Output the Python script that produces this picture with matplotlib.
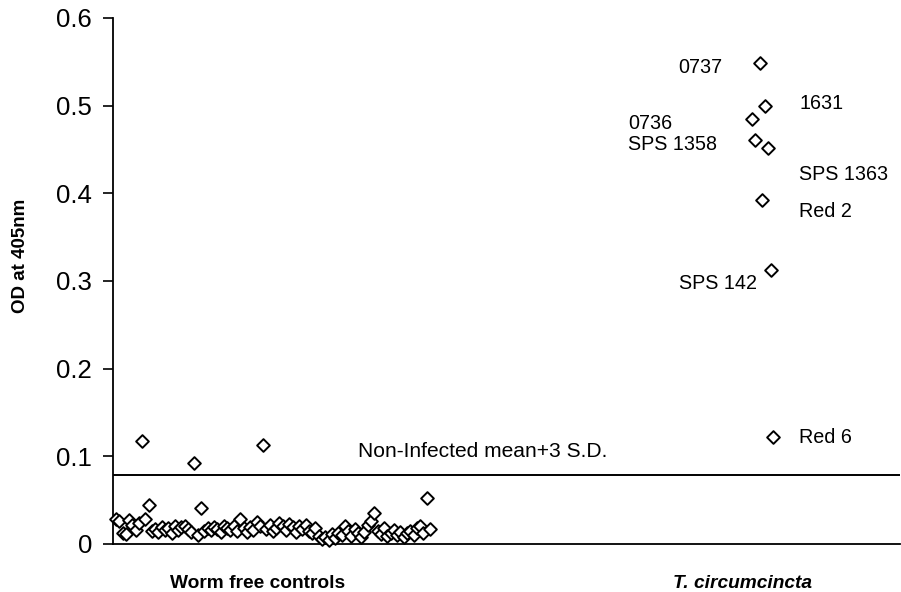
import numpy as np
import matplotlib.pyplot as plt

plt.rcParams['font.family'] = ['Liberation Sans', 'DejaVu Sans']

# OD values of worm free control sera (in plate order)
control_od = [0.028, 0.026, 0.013, 0.011, 0.027, 0.022, 0.016, 0.024, 0.118, 0.029,
              0.044, 0.015, 0.017, 0.014, 0.019, 0.016, 0.018, 0.013, 0.020, 0.016,
              0.019, 0.021, 0.017, 0.014, 0.092, 0.010, 0.041, 0.015, 0.018, 0.016,
              0.019, 0.017, 0.014, 0.020, 0.018, 0.016, 0.021, 0.015, 0.029, 0.018,
              0.014, 0.019, 0.016, 0.025, 0.020, 0.113, 0.017, 0.022, 0.015, 0.018,
              0.024, 0.020, 0.016, 0.023, 0.019, 0.014, 0.021, 0.017, 0.022, 0.015,
              0.012, 0.018, 0.009, 0.006, 0.008, 0.005, 0.011, 0.007, 0.013, 0.010,
              0.020, 0.015, 0.009, 0.017, 0.012, 0.008, 0.014, 0.022, 0.026, 0.035,
              0.015, 0.011, 0.018, 0.009, 0.013, 0.016, 0.010, 0.014, 0.008, 0.012,
              0.015, 0.010, 0.018, 0.020, 0.013, 0.052, 0.017]

# T. circumcincta infected sera
infected_names = ["0737", "1631", "0736", "SPS 1358", "SPS 1363", "Red 2", "SPS 142", "Red 6"]
infected_od = [0.549, 0.500, 0.485, 0.461, 0.452, 0.392, 0.313, 0.122]
infected_pos = [198.0, 199.5, 195.5, 196.4, 200.4, 198.5, 201.3, 201.9]

cutoff = 0.079  # non-infected mean + 3 S.D.

# where each sample label goes (x, y, alignment)
label_spots = {
    "0737": (186.6, 0.544, 'right'),
    "1631": (210.2, 0.502, 'left'),
    "0736": (157.6, 0.480, 'left'),
    "SPS 1358": (157.6, 0.456, 'left'),
    "SPS 1363": (209.9, 0.421, 'left'),
    "Red 2": (209.9, 0.379, 'left'),
    "SPS 142": (197.0, 0.297, 'right'),
    "Red 6": (209.9, 0.122, 'left'),
}

fig = plt.figure(figsize=(9.01, 5.92), dpi=100)
ax = fig.add_axes([0.1254, 0.0811, 0.8735, 0.8885])

ctrl_x = np.arange(1, len(control_od) + 1)
mk = dict(marker='D', s=42, facecolors='white', edgecolors='black', linewidths=1.4,
          clip_on=False, zorder=3)
ax.scatter(ctrl_x, control_od, **mk)
ax.scatter(infected_pos, infected_od, **mk)

ax.axhline(cutoff, color='black', lw=1.4, zorder=2)
ax.text(75.0, 0.106, "Non-Infected mean+3 S.D.", fontsize=15.1, va='center', ha='left')

for name in infected_names:
    x, y, ha = label_spots[name]
    ax.text(x, y, name, fontsize=14.2, va='center', ha=ha)

ax.set_xlim(0.08, 240.8)
ax.set_ylim(0, 0.6)
ax.set_yticks(np.arange(0, 0.61, 0.1))
ax.set_yticklabels(["0", "0.1", "0.2", "0.3", "0.4", "0.5", "0.6"])
ax.tick_params(axis='y', length=7, width=1.2, labelsize=18.5, pad=8)

ax.set_xticks([44.4, 192.7])
ax.set_xticklabels(["Worm free controls", "T. circumcincta"], fontsize=13.8, fontweight='bold')
ax.get_xticklabels()[1].set_style('italic')
ax.tick_params(axis='x', length=0, pad=22)

ax.set_ylabel("OD at 405nm", fontsize=13.5, fontweight='bold')
ax.yaxis.set_label_coords(-0.107, 0.548)

for s in ['top', 'right']:
    ax.spines[s].set_visible(False)
for s in ['left', 'bottom']:
    ax.spines[s].set_linewidth(1.3)

fig.savefig("out.png", dpi=100)
